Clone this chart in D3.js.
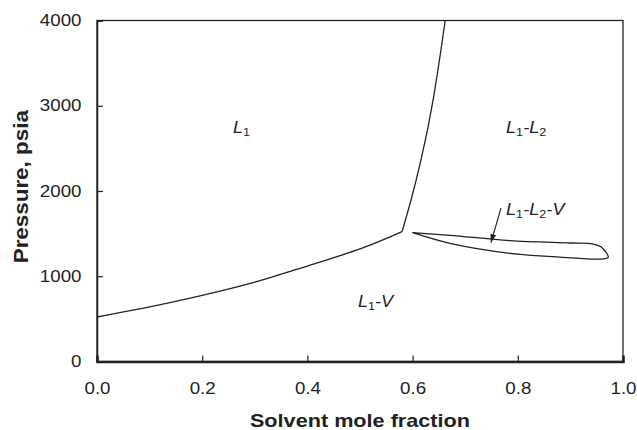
<!DOCTYPE html>
<html>
<head>
<meta charset="utf-8">
<script src="https://cdn.jsdelivr.net/npm/d3@7"></script>
<style>
  body { margin: 0; background: #fff; }
  text { font-family: "Liberation Sans", Arial, sans-serif; fill: #222; }
</style>
</head>
<body>
<svg width="637" height="430"></svg>
<script>
const width = 637
const height = 430
const margin = {top: 20.5, right: 14, bottom: 68.5, left: 97}

// data
const xTicks = [0, 0.2, 0.4, 0.6, 0.8, 1.0]
const yTicks = [0, 1000, 2000, 3000, 4000]
const bubbleCurve = [[0, 522], [0.1, 640], [0.2, 775], [0.3, 930], [0.4, 1120], [0.5, 1320], [0.58, 1523]]
const criticalLine = [[0.58, 1523], [0.597, 1894], [0.616, 2364], [0.639, 3068], [0.662, 4000]]
const threePhaseLoop = [[0.600, 1511], [0.671, 1480], [0.785, 1419], [0.90, 1390], [0.943, 1378],
  [0.958, 1345], [0.972, 1222], [0.96, 1202], [0.88, 1224], [0.785, 1269], [0.671, 1386], [0.600, 1511]]
const arrowLine = [[0.768, 1800], [0.749, 1395]]
// each label: list of [text, subscript] pieces, placed by its left edge
const regionLabels = [
  {parts: [["L", "1"]], x: 0.2586, y: 2684},
  {parts: [["L", "1"], ["-L", "2"]], x: 0.7776, y: 2684},
  {parts: [["L", "1"], ["-V", ""]], x: 0.496, y: 639},
  {parts: [["L", "1"], ["-L", "2"], ["-V", ""]], x: 0.7776, y: 1718}
]

const svg = d3.select("svg")
const iw = width - margin.left - margin.right
const ih = height - margin.top - margin.bottom

const xScale = d3.scaleLinear().domain([0, 1]).range([margin.left, margin.left + iw])
const yScale = d3.scaleLinear().domain([0, 4000]).range([margin.top + ih, margin.top])

// the reference type is a bit wider than Liberation Sans
function stretch(sel, k){
  sel.each(function(){
    const w = this.getComputedTextLength()
    d3.select(this).attr("textLength", w * k).attr("lengthAdjust", "spacingAndGlyphs")
  })
}

// frame
svg.append("rect")
  .attr("x", margin.left).attr("y", margin.top)
  .attr("width", iw).attr("height", ih)
  .style("fill", "none").style("stroke", "#222").style("stroke-width", 1.3)

const xAxis = d3.axisBottom(xScale).tickValues(xTicks).tickSize(-6).tickPadding(21.5)
  .tickFormat(d3.format(".1f"))
const yAxis = d3.axisLeft(yScale).tickValues(yTicks).tickSize(-6).tickPadding(15.5)
  .tickFormat(d3.format("d"))

const gx = svg.append("g").attr("transform", `translate(0,${margin.top + ih})`).call(xAxis)
const gy = svg.append("g").attr("transform", `translate(${margin.left},0)`).call(yAxis)
gx.select(".domain").style("stroke", "#222").style("stroke-width", 2.5)
gy.select(".domain").style("stroke", "#222").style("stroke-width", 1.5)
svg.selectAll(".tick line").style("stroke", "#222").style("stroke-width", 1.2)
svg.selectAll(".tick text").style("font-size", "16px").style("font-family", "Liberation Sans, Arial").style("fill", "#222")
  .call(stretch, 1.17)

// axis titles
svg.append("text")
  .attr("x", xScale(0.5)).attr("y", 426.5)
  .attr("text-anchor", "middle")
  .style("font-size", "18.5px").style("font-weight", "bold")
  .text("Solvent mole fraction")
  .call(stretch, 1.17)
svg.append("text")
  .attr("transform", `translate(28,${yScale(2050)}) rotate(-90)`)
  .attr("text-anchor", "middle")
  .style("font-size", "20px").style("font-weight", "bold")
  .text("Pressure, psia")
  .call(stretch, 1.12)

const line = d3.line().x(d => xScale(d[0])).y(d => yScale(d[1]))

svg.append("path").datum(bubbleCurve)
  .attr("d", line.curve(d3.curveNatural))
  .style("fill", "none").style("stroke", "#222").style("stroke-width", 1.3)
svg.append("path").datum(criticalLine)
  .attr("d", line.curve(d3.curveNatural))
  .style("fill", "none").style("stroke", "#222").style("stroke-width", 1.3)
svg.append("path").datum(threePhaseLoop)
  .attr("d", line.curve(d3.curveCatmullRom.alpha(0.5)))
  .style("fill", "none").style("stroke", "#222").style("stroke-width", 1.3)

// arrow
svg.append("defs").append("marker")
  .attr("id", "head").attr("viewBox", "0 0 10 10")
  .attr("refX", 10).attr("refY", 5)
  .attr("markerWidth", 7).attr("markerHeight", 7)
  .attr("orient", "auto")
  .append("path").attr("d", "M0,1.5 L10,5 L0,8.5 Z").style("fill", "#222")
svg.append("path").datum(arrowLine)
  .attr("d", line.curve(d3.curveLinear))
  .attr("marker-end", "url(#head)")
  .style("fill", "none").style("stroke", "#222").style("stroke-width", 1.2)

// region labels
regionLabels.forEach(l => {
  const t = svg.append("text")
    .attr("x", xScale(l.x)).attr("y", yScale(l.y))
    .style("font-size", "16.5px").style("font-style", "italic")
  let down = 0
  l.parts.forEach(p => {
    t.append("tspan").attr("dy", -down).text(p[0])
    down = 0
    if (p[1]) {
      t.append("tspan").attr("dy", 3).style("font-size", "11.5px").style("font-style", "normal").text(p[1])
      down = 3
    }
  })
  t.call(stretch, 1.1)
})
</script>
</body>
</html>
